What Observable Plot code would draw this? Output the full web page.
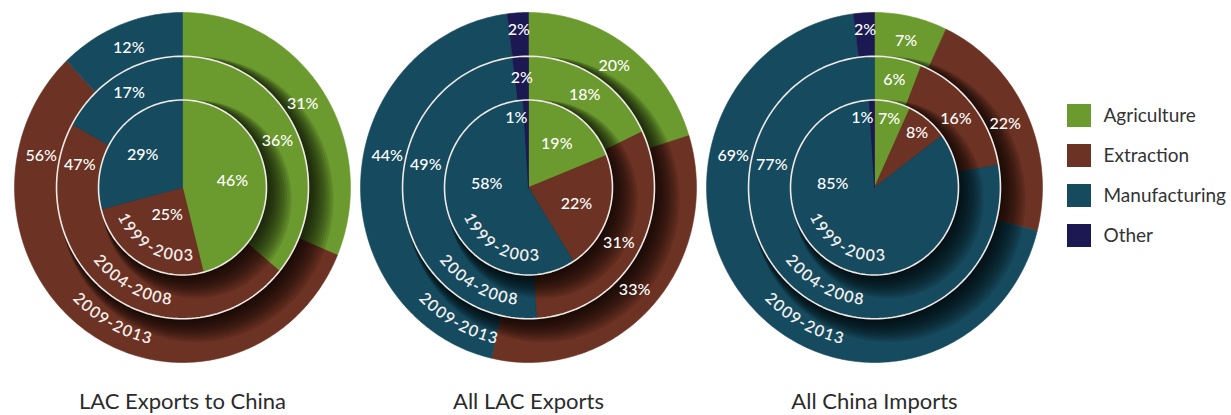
<!DOCTYPE html>
<html><head><meta charset="utf-8">
<script src="https://cdn.jsdelivr.net/npm/d3@7"></script>
<script src="https://cdn.jsdelivr.net/npm/@observablehq/plot@0.6"></script>
<style>
body{margin:0;background:#fff;}
#wrap{position:relative;width:1231px;height:415px;font-family:Lato,"Open Sans",sans-serif;overflow:hidden;}
#wrap svg{overflow:visible;}
#legend{position:absolute;left:1067px;top:85px;}
</style></head><body><div id="wrap"><div id="main"></div><div id="legend"></div></div>
<script>
// ---- data ----
const charts = ["LAC Exports to China", "All LAC Exports", "All China Imports"];
const periods = ["1999-2003", "2004-2008", "2009-2013"];
const sectors = ["Agriculture", "Extraction", "Manufacturing", "Other"];
const sectorColors = ["#6b9a2e", "#6c3223", "#164a5e", "#1c1852"];
// shares (%) per period (inner -> outer), in sector order
const lacToChina   = [[46, 25, 29, 0], [36, 47, 17, 0], [31, 56, 12, 0]];
const allLac       = [[19, 22, 58, 1], [18, 31, 49, 2], [20, 33, 44, 2]];
const chinaImports = [[7, 8, 85, 1],   [6, 16, 77, 0],  [7, 22, 69, 2]];

// ---- layout ----
const shares = [lacToChina, allLac, chinaImports];
const ringR = [0.5, 0.75, 1.0];
const yearR = [0.39, 0.645, 0.885];
const yearMid = 209;
const rad = Math.PI / 180;

const sectorRows = [], labelRows = [], circleRows = [], yearRows = [], shadowRows = [];
shares.forEach((chartShares, ci) => {
  chartShares.forEach((vals, pi) => {
    const total = d3.sum(vals);
    const R = ringR[pi];
    let acc = 0;
    vals.forEach((v, si) => {
      if (!v) return;
      const a0 = acc / total * 360, a1 = (acc + v) / total * 360;
      acc += v;
      const key = `${ci}-${pi}-${si}`;
      const base = {chart: charts[ci], ring: pi, key, sector: sectors[si]};
      sectorRows.push({...base, x: 0, y: 0});
      const n = Math.max(2, Math.ceil(a1 - a0));
      for (let k = 0; k <= n; k++) {
        const a = (a0 + (a1 - a0) * k / n) * rad;
        sectorRows.push({...base, x: R * Math.sin(a), y: R * Math.cos(a)});
      }
      sectorRows.push({...base, x: 0, y: 0});
      // label placement rules
      const frac = v / total;
      let ang = (a0 + a1) / 2, r, anchor = "middle";
      const inZone = ang > 150 && ang < 275;
      if (pi === 0) {
        r = frac < 0.1 ? 0.4 : 0.3;
        if (inZone) {
          if (a0 < 275 && a1 > 275) { ang = 275; r = 0.25; } else r = 0.18;
        }
      } else {
        r = pi === 1 ? 0.625 : (frac < 0.03 ? 0.9 : 0.86);
        if (inZone && a0 < 282 && a1 > 282) ang = 282;
      }
      if (frac < 0.015) { ang = 359; anchor = "end"; }
      labelRows.push({chart: charts[ci], text: `${v}%`, anchor,
        x: r * Math.sin(ang * rad), y: r * Math.cos(ang * rad)});
    });
    if (pi < 2) {
      for (let k = 0; k <= 180; k++) {
        const a = k * 2 * rad;
        circleRows.push({chart: charts[ci], key: `${ci}-${pi}`, ring: pi, x: R * Math.sin(a), y: R * Math.cos(a)});
      }
      // soft shadow cast to the lower right: stacked translucent disks
      for (let L = 0; L < 12; L++) {
        const rr = R + L * 0.006, ox = 0.006 + L * 0.007, oy = -(0.012 + L * 0.005);
        for (let k = 0; k <= 90; k++) {
          const a = k * 4 * rad;
          shadowRows.push({chart: charts[ci], ring: pi, key: `${ci}-${pi}-${L}`,
            x: ox + rr * Math.sin(a), y: oy + rr * Math.cos(a)});
        }
      }
    }
    // curved period label, one glyph at a time
    const chars = [...periods[pi]];
    const fs = 16, spacing = 1.1;
    const widths = chars.map(ch => (ch === "-" ? 0.36 : 0.58) * fs + spacing);
    const tot = d3.sum(widths);
    const rpx = yearR[pi] * 171;
    let s = -tot / 2;
    chars.forEach((ch, k) => {
      const c = s + widths[k] / 2; s += widths[k];
      const a = yearMid - c / rpx / rad;
      yearRows.push({chart: charts[ci], ch, rot: a - 180,
        x: yearR[pi] * Math.sin(a * rad), y: yearR[pi] * Math.cos(a * rad)});
    });
  });
});

const pieMark = (ring) => Plot.line(sectorRows.filter(d => d.ring === ring), {
  fx: "chart", x: "x", y: "y", z: "key", fill: "sector", stroke: "sector",
  strokeWidth: 0.6, curve: "linear"
});
const shadowMark = (ring) => Plot.line(shadowRows.filter(d => d.ring === ring), {
  fx: "chart", x: "x", y: "y", z: "key", fill: "#000000", fillOpacity: 0.1,
  stroke: "none", curve: "linear"
});
const labelStyle = {fx: "chart", x: "x", y: "y", text: "text", fill: "#ffffff", fontSize: 16, fontWeight: 500};

const plot = Plot.plot({
  width: 1231, height: 415,
  marginLeft: 8, marginRight: 184, marginTop: 12, marginBottom: 53,
  fx: {domain: charts, padding: 0, axis: null},
  x: {domain: [-1.03, 1.03], axis: null},
  y: {domain: [-1, 1], axis: null},
  color: {domain: sectors, range: sectorColors},
  style: {fontFamily: "Lato, 'Open Sans', sans-serif", overflow: "visible"},
  marks: [
    pieMark(2),
    shadowMark(1),
    pieMark(1),
    shadowMark(0),
    pieMark(0),
    Plot.line(circleRows, {fx: "chart", x: "x", y: "y", z: "key", stroke: "#efeae6", strokeWidth: 1.6}),
    Plot.text(labelRows.filter(d => d.anchor === "middle"), labelStyle),
    Plot.text(labelRows.filter(d => d.anchor === "end"), {...labelStyle, textAnchor: "end"}),
    Plot.text(yearRows, {fx: "chart", x: "x", y: "y", text: "ch", rotate: "rot",
      fill: "#f4f0ee", fontSize: 16, fontWeight: 600}),
    Plot.text(charts, {fx: d => d, text: d => d, frameAnchor: "bottom", dy: 46,
      fontSize: 22, fill: "#2b2b2b"})
  ]
});
document.getElementById("main").appendChild(plot);

const legend = Plot.plot({
  width: 164, height: 181, margin: 0,
  x: {type: "band", domain: ["swatch"], range: [0, 24], padding: 0, axis: null},
  y: {type: "band", domain: sectors, padding: 0.415, axis: null},
  color: {domain: sectors, range: sectorColors},
  style: {fontFamily: "Lato, 'Open Sans', sans-serif", overflow: "visible"},
  marks: [
    Plot.cell(sectors, {x: () => "swatch", y: d => d, fill: d => d}),
    Plot.text(sectors, {x: () => "swatch", y: d => d, text: d => d, dx: 24,
      textAnchor: "start", fontSize: 19, fill: "#333333"})
  ]
});
document.getElementById("legend").appendChild(legend);
</script>
</body></html>
